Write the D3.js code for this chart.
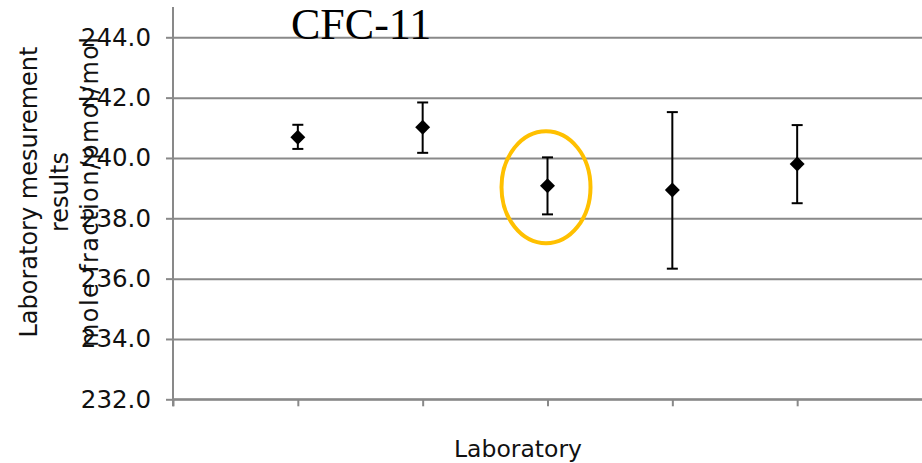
<!DOCTYPE html>
<html>
<head>
<meta charset="utf-8">
<script src="https://cdn.jsdelivr.net/npm/d3@7"></script>
<style>
  body { margin: 0; background: #fff; }
  svg { display: block; }
</style>
</head>
<body>
<svg id="chart" width="922" height="463"></svg>
<script>
// lab number, measured value and error bar ends (pmol/mol)
const labs = [1, 2, 3, 4, 5];
const means = [240.69, 241.02, 239.08, 238.94, 239.80];
const upper = [241.10, 241.84, 240.02, 241.52, 241.09];
const lower = [240.30, 240.17, 238.13, 236.33, 238.50];
const yTicks = [232, 234, 236, 238, 240, 242, 244];
const highlightLab = 3;

const svg = d3.select("#chart");
const gray = "#898989";

let x = d3.scaleLinear()
    .domain([0, 6])
    .range([173, 922]);

let y = d3.scaleLinear()
    .domain([232, 244])
    .range([399.3, 37.3]);

// gridlines
svg.append("g")
    .attr("transform", "translate(173,0)")
    .call(d3.axisLeft(y).tickValues(yTicks).tickSize(-(922 - 173)).tickFormat(""))
    .call(g => g.select(".domain").remove())
    .selectAll("line")
    .attr("stroke", gray)
    .attr("stroke-width", 2);

// y axis with labels
let yAx = svg.append("g")
    .attr("transform", "translate(173,0)")
    .call(d3.axisLeft(y).tickValues(yTicks).tickSize(7).tickPadding(15)
        .tickFormat(d3.format(".1f")));
yAx.select(".domain").remove();
yAx.selectAll("line").attr("stroke", gray).attr("stroke-width", 2);
yAx.selectAll("text")
    .attr("fill", "#111")
    .style("font-family", "'DejaVu Sans', sans-serif")
    .style("font-size", "24.5px");

// x axis, ticks only
let xAx = svg.append("g")
    .attr("transform", "translate(0," + y(232) + ")")
    .call(d3.axisBottom(x).tickValues(d3.range(0, 6)).tickSize(7).tickFormat(""));
xAx.select(".domain").remove();
xAx.selectAll("line").attr("stroke", gray).attr("stroke-width", 2);

svg.append("line")
    .attr("x1", x(0)).attr("x2", 922)
    .attr("y1", y(232)).attr("y2", y(232))
    .attr("stroke", gray).attr("stroke-width", 2);
svg.append("line")
    .attr("x1", x(0)).attr("x2", x(0))
    .attr("y1", 7).attr("y2", y(232) + 7)
    .attr("stroke", gray).attr("stroke-width", 2);

// error bars
let bars = svg.append("g")
    .selectAll("g")
    .data(labs)
    .enter()
    .append("g")
    .attr("stroke", "#000")
    .attr("stroke-width", 2);
bars.append("line")
    .attr("x1", d => x(d)).attr("x2", d => x(d))
    .attr("y1", (d, i) => y(upper[i])).attr("y2", (d, i) => y(lower[i]));
bars.append("line")
    .attr("x1", d => x(d) - 5.5).attr("x2", d => x(d) + 5.5)
    .attr("y1", (d, i) => y(upper[i])).attr("y2", (d, i) => y(upper[i]));
bars.append("line")
    .attr("x1", d => x(d) - 5.5).attr("x2", d => x(d) + 5.5)
    .attr("y1", (d, i) => y(lower[i])).attr("y2", (d, i) => y(lower[i]));

// diamonds
svg.append("g")
    .selectAll("path")
    .data(labs)
    .enter()
    .append("path")
    .attr("d", d3.symbol(d3.symbolSquare, 112))
    .attr("transform", (d, i) => "translate(" + x(d) + "," + y(means[i]) + ") rotate(45)")
    .attr("fill", "#000");

// highlight ring round lab 3
let hi = labs.indexOf(highlightLab);
svg.append("ellipse")
    .attr("cx", x(highlightLab) - 1.5)
    .attr("cy", y(means[hi]) + 1.5)
    .attr("rx", 44.5)
    .attr("ry", 56)
    .attr("fill", "none")
    .attr("stroke", "#FFC000")
    .attr("stroke-width", 4);

// title
svg.append("text")
    .attr("x", 291)
    .attr("y", 39)
    .text("CFC-11")
    .style("font-family", "'Liberation Serif', 'Times New Roman', serif")
    .style("font-size", "44px")
    .attr("fill", "#000");

// axis titles
const yTitle = ["Laboratory mesurement", "results", "mole fraction/pmol/mol"];
const yTitleLen = [291, 80, 310];
svg.append("g")
    .selectAll("text")
    .data(yTitle)
    .enter()
    .append("text")
    .attr("transform", (d, i) => "translate(" + (37 + i * 30.5) + ",192) rotate(-90)")
    .attr("text-anchor", "middle")
    .attr("textLength", (d, i) => yTitleLen[i])
    .attr("lengthAdjust", "spacing")
    .style("font-family", "'DejaVu Sans', sans-serif")
    .style("font-size", "24px")
    .attr("fill", "#111")
    .text(d => d);

svg.append("text")
    .attr("x", 518)
    .attr("y", 457)
    .attr("text-anchor", "middle")
    .style("font-family", "'DejaVu Sans', sans-serif")
    .style("font-size", "23.5px")
    .attr("fill", "#111")
    .text("Laboratory");
</script>
</body>
</html>
